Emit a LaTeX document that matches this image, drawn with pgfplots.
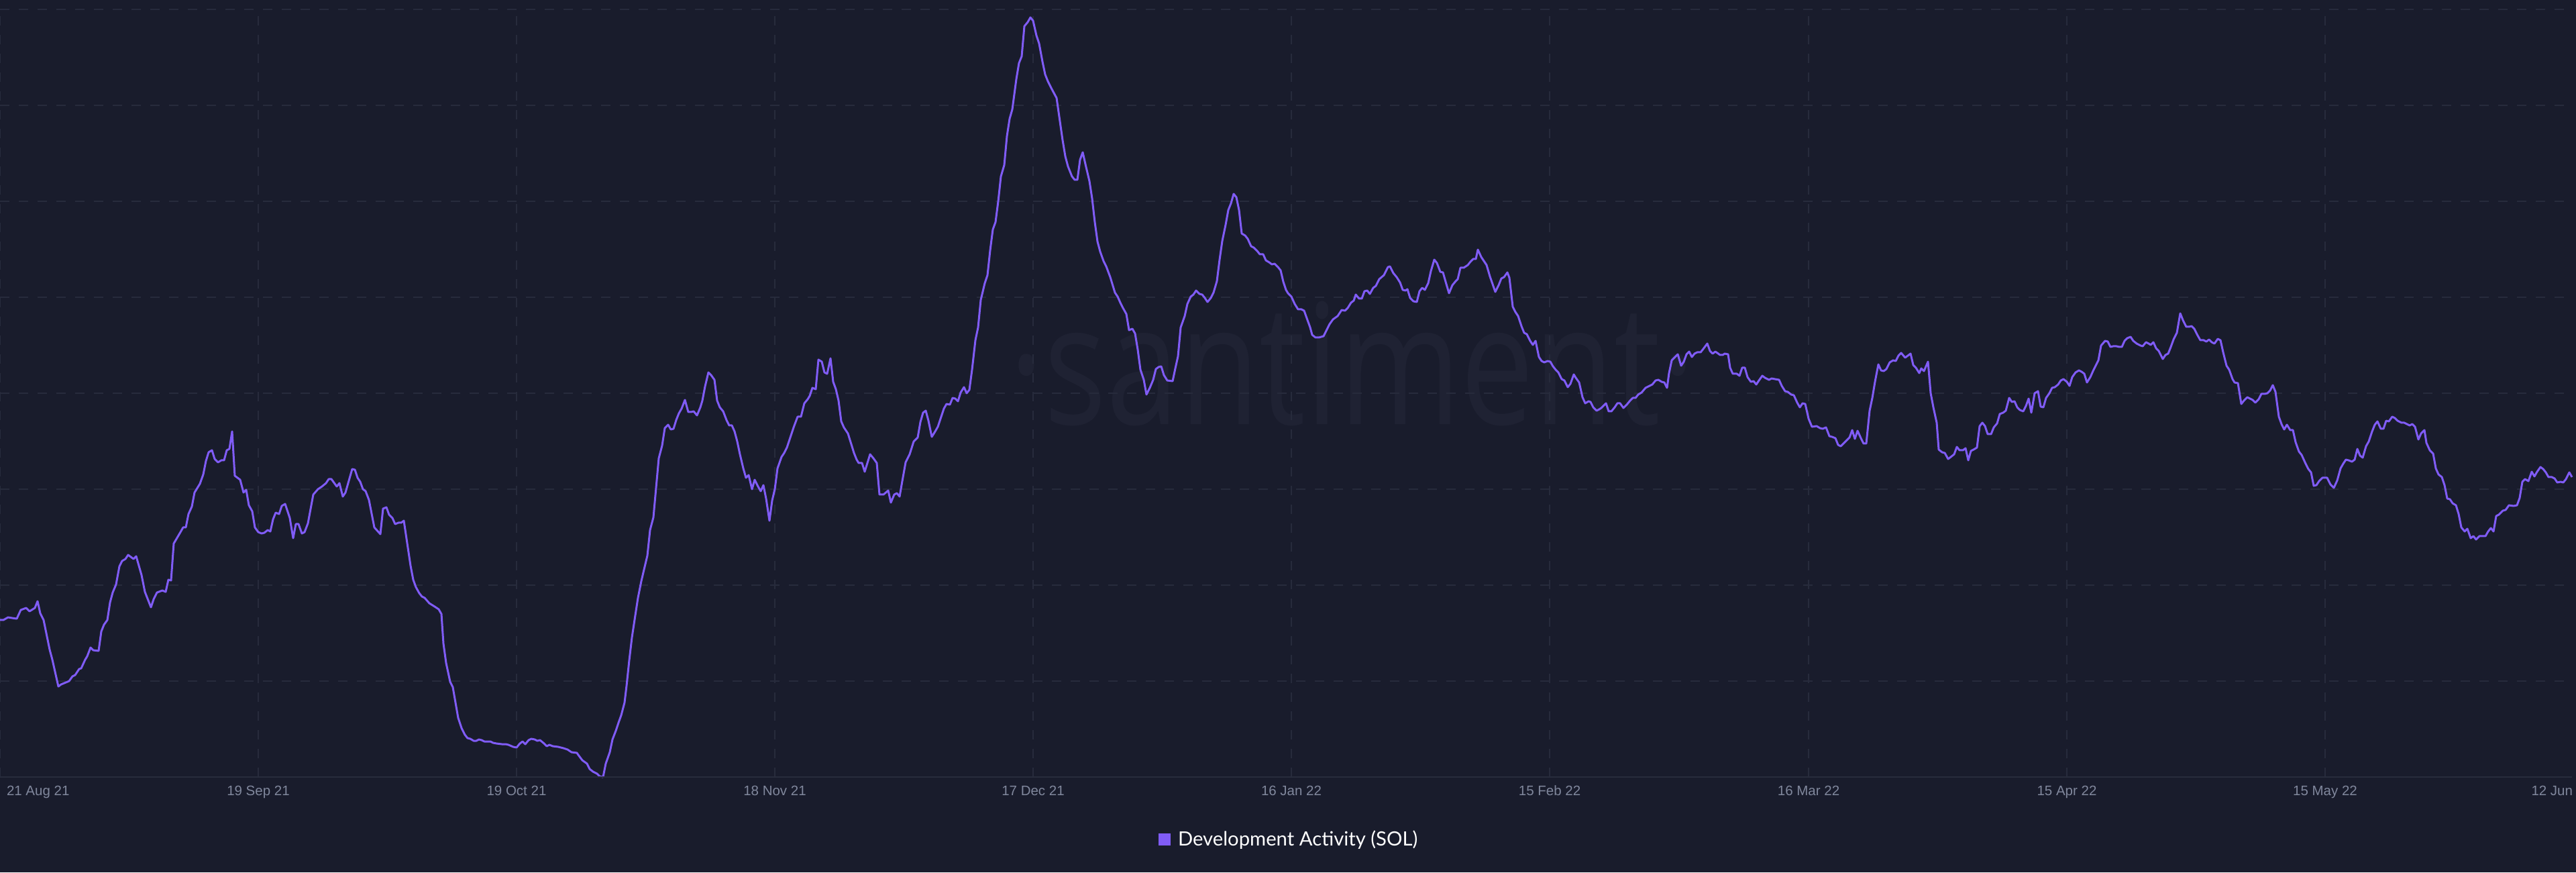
\documentclass[border=0pt]{standalone}
\usepackage{pgfplots}
\pgfplotsset{compat=1.18}
\usepackage{fontspec}
\setmainfont{Liberation Sans}
\newfontfamily\legfont{Lato}
\newfontfamily\wmfont{Open Sans}
\definecolor{bg}{RGB}{25,28,44}
\definecolor{gridc}{RGB}{39,43,60}
\definecolor{axc}{RGB}{40,44,60}
\definecolor{linec}{RGB}{128,92,246}
\definecolor{tickc}{RGB}{128,135,156}
\definecolor{wmc}{RGB}{31,34,51}
\begin{document}
\begin{tikzpicture}
\fill[bg] (0,-28.4pt) rectangle (768pt,231.6pt);
\node[anchor=base, font=\wmfont\fontsize{50}{52}\selectfont, text=wmc, xscale=0.78, inner sep=0] at (403.2pt,105.2pt) {·santiment·};
\begin{axis}[
  scale only axis, width=766.8pt, height=228.8pt,
  at={(0,0)}, anchor=south west,
  xmin=0, xmax=3834, ymin=0, ymax=1144,
  axis line style={draw=none},
  xtick={0,385,770,1155,1540,1925,2310,2696,3081,3466},
  ytick={0,143,286,429,572,715,858,1001,1144},
  xticklabels={}, yticklabels={},
  major tick length=0pt,
  tick style={draw=none},
  grid=major,
  major grid style={draw=gridc, line width=0.4pt, dash pattern=on 2.8pt off 2.8pt},
  clip=false,
]
\addplot[linec, line width=0.6pt, line join=round] table[x=x, y=y] {
x y
0 234
5 234
12 238
18 237
25 236
31 249
39 252
44 247
52 252
56 262
60 244
65 234
74 190
78 175
87 135
91 138
103 143
108 150
112 152
118 161
121 162
127 175
130 180
135 193
139 189
147 188
151 217
155 227
160 234
164 260
168 275
173 287
178 314
182 322
187 325
191 331
199 325
203 329
207 315
211 301
216 276
225 253
229 265
234 275
242 278
247 276
251 294
255 293
259 348
269 365
273 372
277 372
281 392
286 403
290 424
298 437
303 451
307 471
311 484
316 487
320 474
325 469
330 472
334 472
338 487
342 489
346 515
350 449
358 443
363 424
367 428
371 405
376 396
380 372
385 365
390 363
394 364
399 368
403 366
407 384
411 394
416 392
420 404
425 407
432 386
437 356
441 377
445 377
450 363
454 365
459 378
467 421
474 429
480 433
486 438
490 444
494 444
502 433
506 438
511 418
515 424
525 459
529 458
533 446
537 440
541 429
545 426
550 413
558 372
567 362
571 400
576 402
580 391
585 386
589 377
594 379
598 379
602 382
612 315
616 294
620 283
625 274
629 269
633 267
640 259
648 254
654 250
658 243
661 199
665 170
671 142
675 134
679 111
683 88
688 73
693 63
697 58
701 57
706 54
710 54
714 56
718 55
722 53
731 53
735 51
740 50
748 49
754 49
758 48
765 45
770 44
775 50
779 53
783 49
788 55
792 57
797 56
801 54
805 55
811 50
815 46
819 48
824 46
832 45
840 43
846 41
852 37
860 36
862 33
868 25
875 20
879 12
884 8
890 5
894 1
899 0
903 20
909 37
913 56
918 69
922 81
926 92
931 111
934 136
938 174
942 208
947 241
951 267
956 292
960 309
965 330
969 368
974 387
978 431
982 475
987 494
991 520
996 525
1000 518
1004 519
1008 532
1012 542
1016 549
1021 562
1026 544
1030 544
1034 545
1039 539
1044 551
1047 561
1051 582
1056 603
1060 599
1065 592
1069 561
1073 551
1078 545
1083 532
1087 524
1091 524
1095 515
1099 500
1103 481
1108 460
1112 446
1116 450
1121 429
1125 443
1130 433
1134 426
1138 435
1142 415
1147 382
1151 412
1155 429
1159 460
1165 477
1169 483
1173 491
1177 503
1183 521
1189 537
1194 537
1199 557
1204 563
1207 568
1211 580
1216 578
1220 622
1225 619
1229 603
1233 601
1238 624
1242 589
1246 578
1250 561
1254 530
1258 521
1264 512
1269 496
1273 483
1277 473
1280 468
1285 468
1289 455
1297 481
1302 475
1307 468
1311 421
1317 421
1324 427
1328 409
1333 421
1337 423
1341 418
1345 441
1350 469
1356 481
1362 500
1368 506
1372 529
1376 543
1380 546
1384 531
1389 507
1394 515
1398 522
1403 537
1407 549
1411 556
1416 555
1420 565
1424 564
1428 560
1432 573
1437 581
1441 572
1445 577
1449 607
1454 651
1458 670
1462 711
1468 736
1472 748
1476 785
1480 816
1484 827
1488 858
1492 895
1497 912
1501 955
1505 981
1509 995
1515 1040
1519 1064
1523 1074
1527 1119
1532 1125
1536 1132
1540 1127
1545 1105
1549 1093
1554 1066
1558 1047
1562 1037
1568 1025
1575 1012
1580 977
1584 949
1588 925
1592 910
1598 895
1602 890
1606 890
1610 920
1614 931
1619 909
1624 888
1628 862
1632 827
1636 798
1640 783
1645 769
1649 761
1655 745
1662 722
1666 716
1670 707
1674 699
1679 690
1683 666
1688 668
1692 661
1696 637
1700 607
1705 592
1709 570
1714 580
1719 592
1723 608
1727 611
1731 612
1735 599
1740 591
1748 590
1752 609
1756 627
1760 670
1766 687
1770 705
1775 716
1779 719
1783 725
1788 720
1792 719
1796 714
1800 708
1805 714
1809 722
1814 739
1818 771
1822 799
1827 823
1831 845
1835 855
1839 869
1843 864
1847 845
1851 810
1856 807
1860 802
1865 791
1869 789
1874 784
1878 779
1883 779
1887 770
1892 767
1896 764
1900 765
1905 760
1909 755
1913 738
1917 726
1920 721
1925 716
1930 705
1935 697
1940 697
1944 695
1949 681
1953 670
1956 659
1961 655
1966 655
1973 657
1977 665
1982 675
1987 682
1994 687
2000 696
2005 695
2009 699
2014 707
2018 710
2021 719
2026 713
2030 713
2034 724
2038 725
2042 720
2047 729
2051 732
2056 742
2063 748
2069 760
2072 761
2077 751
2082 745
2087 737
2091 726
2095 725
2098 727
2102 714
2107 709
2112 708
2116 724
2120 729
2124 726
2129 736
2133 754
2138 771
2142 766
2147 753
2151 752
2155 738
2160 721
2165 733
2170 739
2173 742
2177 759
2182 759
2188 763
2192 768
2196 772
2200 772
2203 786
2208 775
2216 763
2221 746
2229 723
2234 733
2238 743
2242 745
2247 752
2250 744
2255 701
2259 693
2263 687
2268 672
2272 662
2276 660
2281 650
2285 644
2289 650
2294 626
2298 620
2302 618
2307 620
2311 619
2315 612
2319 607
2323 603
2328 593
2332 591
2337 581
2341 586
2346 600
2349 595
2354 588
2359 566
2363 557
2368 560
2371 559
2375 551
2380 546
2384 548
2387 550
2394 557
2398 545
2402 545
2407 551
2411 557
2415 557
2420 550
2425 555
2430 561
2434 565
2438 565
2442 570
2447 573
2453 580
2459 583
2463 585
2468 591
2472 592
2477 589
2481 588
2485 580
2488 602
2492 621
2496 625
2501 630
2506 613
2510 619
2514 630
2518 634
2522 626
2526 631
2530 633
2535 633
2539 638
2545 646
2549 635
2553 631
2557 634
2560 632
2564 629
2568 629
2571 631
2576 630
2579 610
2583 601
2589 601
2593 598
2597 610
2601 610
2605 596
2610 589
2614 590
2618 585
2622 591
2627 598
2631 595
2637 592
2641 594
2646 593
2652 592
2656 583
2661 575
2665 574
2670 570
2674 569
2679 558
2683 551
2687 557
2691 556
2696 534
2701 522
2708 523
2713 520
2717 519
2722 521
2727 508
2731 507
2736 505
2740 495
2744 493
2749 498
2754 503
2757 506
2761 517
2765 504
2769 516
2774 505
2778 497
2782 497
2787 546
2791 565
2795 589
2800 615
2804 606
2808 605
2812 608
2817 618
2822 621
2826 620
2830 628
2834 632
2840 625
2844 628
2848 631
2852 614
2856 610
2861 602
2864 609
2868 605
2874 619
2878 572
2882 551
2887 528
2890 488
2895 484
2899 483
2904 474
2908 477
2913 481
2917 492
2921 487
2926 487
2930 490
2934 472
2938 486
2942 488
2947 491
2951 523
2955 528
2959 523
2963 511
2968 511
2972 521
2977 527
2981 541
2986 543
2990 546
2995 565
2999 559
3003 560
3007 551
3011 547
3016 545
3020 553
3024 564
3028 543
3033 572
3038 575
3042 552
3046 551
3050 565
3055 572
3059 580
3063 581
3068 585
3072 591
3076 593
3081 589
3085 583
3089 596
3094 603
3099 606
3103 604
3107 601
3111 588
3116 596
3120 605
3124 613
3128 621
3132 643
3138 650
3142 649
3146 641
3150 642
3155 642
3159 641
3163 641
3167 650
3171 654
3176 656
3180 650
3185 646
3191 643
3194 642
3199 648
3203 646
3206 644
3210 648
3214 639
3218 635
3224 623
3228 629
3232 631
3236 641
3240 652
3245 662
3250 691
3254 681
3259 671
3263 671
3267 672
3271 668
3276 658
3280 651
3285 651
3289 649
3293 652
3297 648
3301 646
3306 653
3310 651
3314 633
3319 613
3323 607
3328 593
3331 588
3336 587
3341 556
3345 561
3350 566
3354 564
3358 562
3362 558
3367 563
3371 571
3376 571
3380 572
3384 576
3388 584
3392 574
3397 537
3401 526
3405 518
3409 525
3414 517
3418 517
3422 499
3427 485
3431 480
3436 469
3441 459
3445 454
3449 434
3453 435
3457 441
3462 446
3469 446
3474 436
3479 431
3484 442
3489 460
3493 467
3497 473
3501 472
3506 470
3510 473
3514 489
3518 479
3522 476
3527 493
3531 500
3536 515
3540 525
3544 530
3549 519
3553 519
3557 531
3561 530
3566 537
3570 535
3574 531
3580 528
3584 528
3588 526
3592 524
3596 526
3600 522
3605 503
3609 512
3614 517
3617 498
3622 487
3627 482
3631 460
3635 451
3640 447
3644 435
3648 415
3652 414
3656 408
3661 405
3665 392
3669 372
3674 366
3678 370
3683 356
3687 359
3691 354
3696 359
3705 359
3709 366
3713 371
3717 366
3721 389
3725 391
3731 397
3735 398
3740 405
3747 404
3752 405
3756 416
3760 440
3764 444
3769 441
3774 455
3778 448
3782 455
3787 462
3791 459
3795 454
3799 447
3804 447
3808 445
3812 439
3817 440
3821 439
3825 444
3830 454
3834 447
};
\draw[axc, line width=0.35pt] (axis cs:0,0) -- (axis cs:3834,0);
\begin{scope}[every node/.style={font=\fontsize{4.1}{4.8}\selectfont, text=tickc, inner sep=0, yshift=-5.4pt}]
\node[anchor=base west, xshift=1.8pt] at (axis cs:0,0) {21 Aug 21};
\node[anchor=base] at (axis cs:385,0) {19 Sep 21};
\node[anchor=base] at (axis cs:770,0) {19 Oct 21};
\node[anchor=base] at (axis cs:1155,0) {18 Nov 21};
\node[anchor=base] at (axis cs:1540,0) {17 Dec 21};
\node[anchor=base] at (axis cs:1925,0) {16 Jan 22};
\node[anchor=base] at (axis cs:2310,0) {15 Feb 22};
\node[anchor=base] at (axis cs:2696,0) {16 Mar 22};
\node[anchor=base] at (axis cs:3081,0) {15 Apr 22};
\node[anchor=base] at (axis cs:3466,0) {15 May 22};
\node[anchor=base east] at (axis cs:3836,0) {12 Jun};
\end{scope}
\end{axis}
\fill[linec] (345.4pt,-16.8pt) rectangle (349pt,-20.4pt);
\node[anchor=base west, inner sep=0, font=\legfont\fontsize{5.85}{6.8}\selectfont, text=white] at (351pt,-20.4pt) {Development Activity (SOL)};
\pgfresetboundingbox
\useasboundingbox (0,-28.4pt) rectangle (768pt,231.6pt);
\end{tikzpicture}
\end{document}
